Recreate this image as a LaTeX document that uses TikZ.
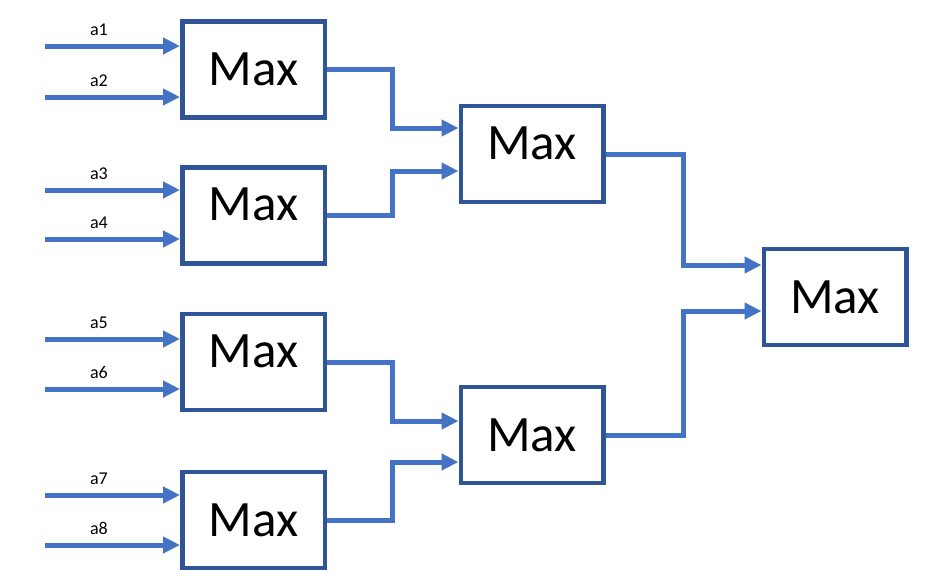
\documentclass[tikz,border=0pt]{standalone}
\usepackage{fontspec}
\setmainfont{Carlito}
\usetikzlibrary{calc}
\usetikzlibrary{arrows.meta}
\definecolor{boxblue}{RGB}{47,85,151}
\definecolor{wireblue}{RGB}{68,114,196}

\begin{document}
\begin{tikzpicture}[x=1pt,y=-1pt,>={Triangle[length=17pt,width=16pt]}]
  \tikzset{
    maxbox/.style={draw=boxblue, line width=4.5pt, minimum width=142.5pt, minimum height=96pt, inner sep=0pt, font=\fontsize{51}{60}\selectfont},
    lift/.style={text depth=22pt}, % 文字を少し上へ
    wire/.style={draw=wireblue, line width=5pt},
    inlabel/.style={font=\fontsize{18}{20}\selectfont, above=8pt, inner sep=0pt},
  }
  \useasboundingbox (0,0) rectangle (940,587);

  % 1段目
  \node[maxbox] (m1) at (253.5,69.5) {Max};
  \node[maxbox, lift] (m2) at (253.5,215.5) {Max};
  \node[maxbox, lift] (m3) at (253.5,362) {Max};
  \node[maxbox] (m4) at (253.5,520) {Max};
  % 2段目
  \node[maxbox, lift] (n1) at (532,154) {Max};
  \node[maxbox] (n2) at (532,435) {Max};
  % 最終段
  \node[maxbox] (r) at (835,297) {Max};

  \foreach \i/\b/\y in {1/m1/46, 2/m1/97, 3/m2/190, 4/m2/239, 5/m3/339, 6/m3/389, 7/m4/495, 8/m4/545} { % 入力矢印
    \coordinate (in-\i) at (45,\y);
    \draw[wire,->] (in-\i) -- (in-\i -| \b.west) node[inlabel, pos=0.4]{a\i};
  }
  \foreach \s/\t/\dy in {m1/n1/-26, m2/n1/17, m3/n2/-14, m4/n2/27, n1/r/-32, n2/r/14} { % 折れ線で次の段へ
    \coordinate (t-\s) at ($(\t.west)+(0,\dy)$);
    \draw[wire,->] (\s.east) -| ($(\s.east)!0.5!(t-\s)$) |- (t-\s);
  }
\end{tikzpicture}
\end{document}
